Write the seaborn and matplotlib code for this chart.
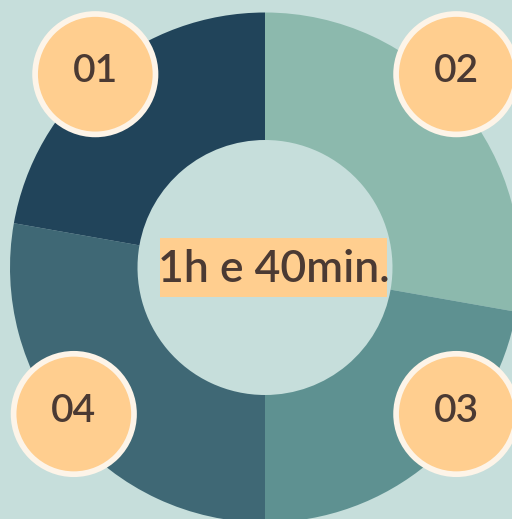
import matplotlib
matplotlib.use("Agg")
import matplotlib.pyplot as plt
import seaborn as sns
from matplotlib.patches import Circle, Rectangle

# steps in the order they sit round the ring, clockwise from 12 o'clock
steps = ['02', '03', '04', '01']
minutes = [25, 20, 25, 20]
step_colors = ['#8cb9ad', '#5e9191', '#3f6875', '#21445a']
center_label = '1h e 40min.'

bg = '#c6dedb'
peach = '#ffce8f'
cream = '#fdf4e8'
ink = '#4b3a33'

sns.set_style('white')
plt.rcParams['font.family'] = ['Lato', 'DejaVu Sans']

fig = plt.figure(figsize=(5.12, 5.19), dpi=100, facecolor=bg)
ax = fig.add_axes([0, 0, 1, 1])
ax.set_facecolor(bg)

# donut
ax.pie(minutes, colors=step_colors, startangle=90, counterclock=False,
       center=(265, 251.5), radius=255,
       wedgeprops=dict(width=127.5, linewidth=0))
ax.set_xlim(0, 512)
ax.set_ylim(0, 519)
ax.set_aspect('equal')
ax.axis('off')

# numbered badges
badge_pos = {'01': (95.3, 444.8), '02': (456.3, 444.8),
             '03': (456.3, 105.0), '04': (73.8, 105.0)}
for s in steps:
    x, y = badge_pos[s]
    ax.add_patch(Circle((x, y), 60.2, facecolor=peach, edgecolor=cream,
                        linewidth=4.1, zorder=5))
    ax.text(x, y + 3, s, ha='center', va='center', fontsize=28,
            color=ink, fontweight='semibold', zorder=6)

# label box behind the total
ax.add_patch(Rectangle((160, 222), 227, 59.5, facecolor=peach,
                       edgecolor='none', zorder=5))
ax.text(273.5, 237.5, center_label, ha='center', va='baseline', fontsize=32,
        color=ink, fontweight='semibold', zorder=6)

fig.savefig('out.png', dpi=100, facecolor=bg)
